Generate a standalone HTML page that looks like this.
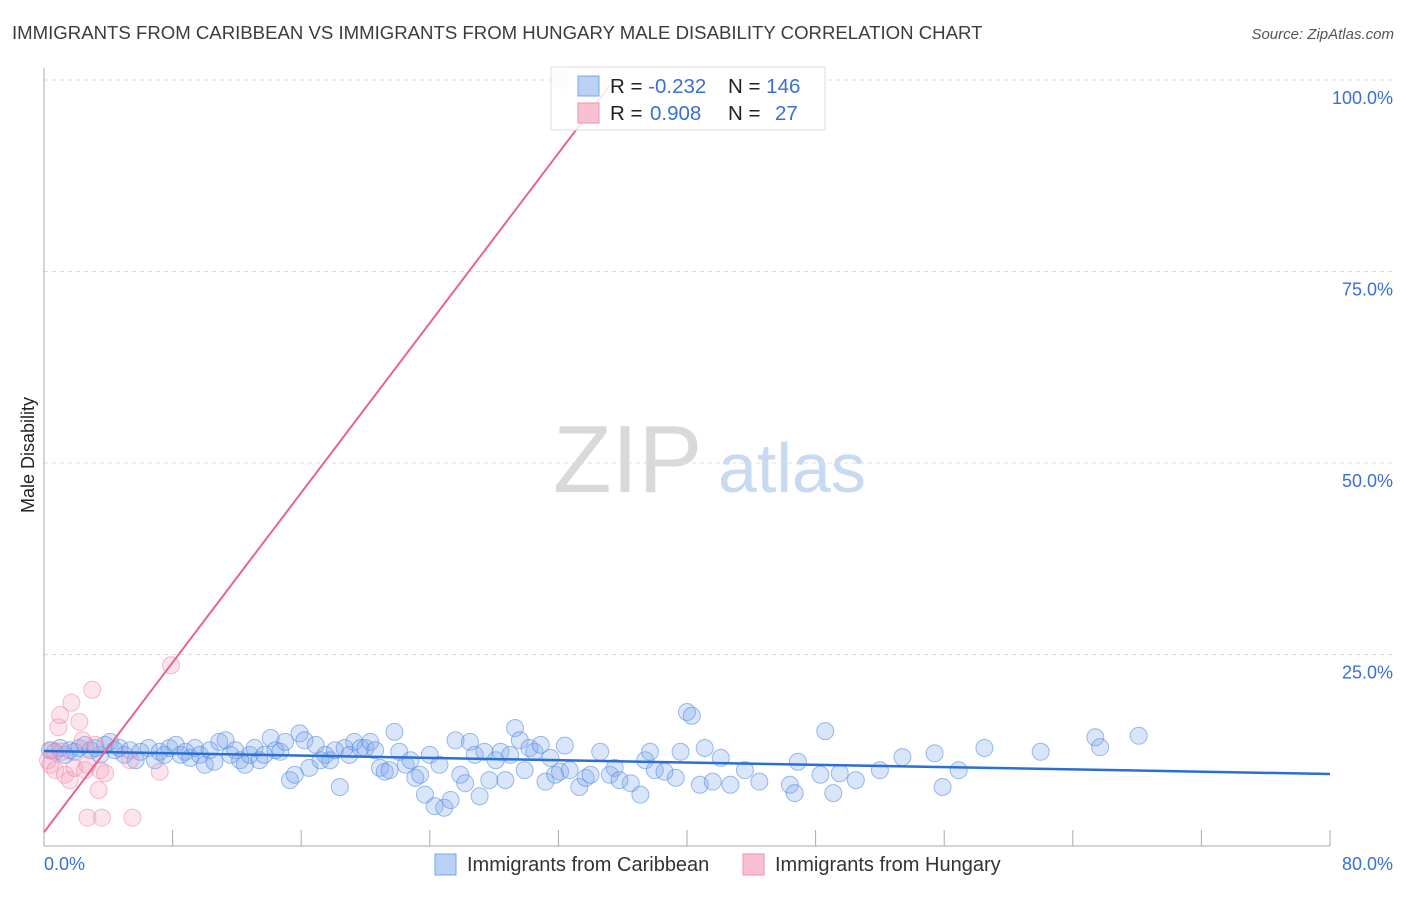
<!DOCTYPE html>
<html><head><meta charset="utf-8"><style>
body{margin:0;background:#fff;font-family:"Liberation Sans",sans-serif;}
svg text{font-family:"Liberation Sans",sans-serif;}
</style></head><body>
<svg id="chart" width="1406" height="892" viewBox="0 0 1406 892">
<text x="12" y="39" font-size="18.6" fill="#3c3c3c">IMMIGRANTS FROM CARIBBEAN VS IMMIGRANTS FROM HUNGARY MALE DISABILITY CORRELATION CHART</text>
<text x="1394" y="39" font-size="15" fill="#555" font-style="italic" text-anchor="end">Source: ZipAtlas.com</text>
<text transform="translate(34,455) rotate(-90)" font-size="18" fill="#222" text-anchor="middle">Male Disability</text>
<g>
<text x="553" y="492" font-size="96" fill="#d9d9d9" font-family="Liberation Serif">ZIP</text>
<text x="718" y="492" font-size="70" fill="#c8d9f2">atlas</text>
</g>
<g id="grid"></g>
<g id="axes"></g>
<g id="pts"></g>
<g id="trends"></g>
<g>
<rect x="551" y="67" width="274" height="63" fill="#fff" fill-opacity="0.85" stroke="#ddd"/>
<rect x="578" y="76" width="21" height="20" fill="#b9d1f4" stroke="#7aa6e6"/>
<rect x="578" y="103" width="21" height="20" fill="#f8c0d0" stroke="#ee93b0"/>
<text x="610" y="93" font-size="20.5" fill="#222">R = <tspan fill="#3a6fd8">-0.232</tspan><tspan x="728">N = </tspan><tspan fill="#3a6fd8">146</tspan></text>
<text x="610" y="120" font-size="20.5" fill="#222">R = <tspan x="650" fill="#3a6fd8">0.908</tspan><tspan x="728">N = </tspan><tspan x="775" fill="#3a6fd8">27</tspan></text>
</g>
<g>
<rect x="435" y="854" width="21" height="21" fill="#b9d1f4" stroke="#7aa6e6"/>
<text x="467" y="871" font-size="20" fill="#333">Immigrants from Caribbean</text>
<rect x="743" y="854" width="21" height="21" fill="#f8c0d0" stroke="#ee93b0"/>
<text x="775" y="871" font-size="20" fill="#333">Immigrants from Hungary</text>
</g>
</svg>
<script>
const yTicks=[25,50,75,100];
const yTickLabels=["25.0%","50.0%","75.0%","100.0%"];
const xTickLabels=["0.0%","80.0%"];
const blueX=[0.37,0.68,1.0,1.3,1.6,1.9,2.2,2.55,2.9,3.2,3.5,3.8,4.1,4.4,4.7,5.0,5.35,5.7,6.0,6.5,6.9,7.2,7.5,7.8,8.2,8.5,8.8,9.1,9.4,9.7,10.0,10.3,10.6,10.9,11.3,11.6,11.9,12.2,12.5,12.8,13.1,13.4,13.7,14.1,14.4,14.7,15.0,15.3,15.6,15.9,16.2,16.5,16.9,17.2,17.5,17.8,18.1,18.4,18.7,19.0,19.3,19.7,20.0,20.3,20.6,20.9,21.2,21.5,21.8,22.1,22.5,22.8,23.1,23.4,23.7,24.0,24.3,24.6,24.9,25.3,25.6,25.9,26.2,26.5,26.8,27.1,27.4,27.7,28.1,28.4,28.7,29.0,29.3,29.6,29.9,30.2,30.5,30.9,31.2,31.5,31.8,32.1,32.4,32.7,33.3,33.7,34.0,34.6,35.2,35.5,35.8,36.5,37.1,37.4,37.7,38.0,38.6,39.3,39.6,40.0,40.3,40.8,41.1,41.6,42.1,42.7,43.6,44.5,46.4,46.7,46.9,48.3,48.6,49.1,49.5,50.5,52.0,53.4,55.4,55.9,56.9,58.5,62.0,65.4,65.7,68.1];
const blueY=[12.5,12.3,12.8,11.9,12.5,12.3,12.8,13.2,12.5,12.8,11.9,13.2,13.6,12.5,12.8,11.9,12.5,11.2,12.3,12.8,11.2,12.3,11.9,12.8,13.2,11.9,12.3,11.5,12.8,11.9,10.6,12.5,11.0,13.6,13.8,11.9,12.5,11.2,10.6,11.9,12.8,11.2,11.9,14.1,12.5,12.3,13.6,8.6,9.3,14.7,13.8,10.2,13.2,11.2,11.9,11.2,12.5,7.7,12.8,11.9,13.6,12.8,12.8,13.6,12.5,10.2,9.7,9.9,14.9,12.3,10.6,11.2,8.9,9.3,6.7,11.9,5.2,10.6,5.0,6.0,13.8,9.3,8.2,13.6,11.9,6.5,12.3,8.6,11.2,12.3,8.6,11.9,15.4,13.8,9.9,12.8,12.3,13.2,8.4,11.5,9.3,9.7,13.1,9.9,7.7,8.9,9.3,12.3,9.3,10.2,8.6,8.2,6.7,11.2,12.3,9.9,9.7,8.9,12.3,17.5,17.0,8.0,12.8,8.4,11.5,8.0,9.9,8.4,8.0,6.9,11.0,9.3,15.0,6.9,9.5,8.6,9.9,11.6,12.1,7.7,9.9,12.8,12.3,14.2,12.9,14.4];
const pinkX=[0.25,0.4,0.5,0.7,0.9,1.0,1.1,1.3,1.6,1.7,1.9,2.2,2.4,2.55,2.7,3.0,3.2,3.4,3.5,3.8,2.7,3.6,5.5,5.35,7.2,7.9,32.1];
const pinkY=[11.2,10.6,12.5,9.9,15.5,17.1,12.3,9.3,8.6,18.7,10.2,16.2,13.8,9.9,10.6,20.4,13.2,7.3,9.9,9.5,3.7,3.7,3.7,11.2,9.7,23.6,100];
const blueTrend=[12.4,9.4];
const pinkTrend=[1.8,2.77];
const X0=44,X1=1330,Y0=846,PY=7.66;
function sx(v){return X0+(v/80)*(X1-X0);}
function sy(v){return Y0-v*PY;}
const NS="http://www.w3.org/2000/svg";
function mk(t,a,p){const e=document.createElementNS(NS,t);for(const k in a)e.setAttribute(k,a[k]);p.appendChild(e);return e;}
const grid=document.getElementById('grid'),axes=document.getElementById('axes'),pts=document.getElementById('pts'),tr=document.getElementById('trends');
yTicks.forEach((v,i)=>{
 const l=mk('line',{x1:X0,x2:1394,y1:sy(v),y2:sy(v),stroke:'#ddd','stroke-dasharray':'4,4'},grid);
 
 
 const t=mk('text',{x:1393,y:sy(v)+24,'font-size':18,fill:'#3a6fd8','text-anchor':'end'},grid);
 t.textContent=yTickLabels[i];
 
 
});
const ya=mk('line',{x1:X0,x2:X0,y1:68,y2:Y0,stroke:'#aaa'},axes);


const xa=mk('line',{x1:X0,x2:X1,y1:Y0,y2:Y0,stroke:'#aaa'},axes);


for(let v=8;v<=80;v+=8){
 const tk=mk('line',{x1:sx(v),x2:sx(v),y1:Y0-16,y2:Y0,stroke:'#aaa'},axes);
 
 
}
[[0,'start',44],[80,'end',1393]].forEach((d,i)=>{
 const t=mk('text',{x:d[2],y:870,'font-size':18,fill:'#3a6fd8','text-anchor':d[1]},axes);
 t.textContent=xTickLabels[i];
 
 
});
blueX.forEach((x,i)=>{
 const c=mk('circle',{cx:sx(x),cy:sy(blueY[i]),r:8.5,fill:'rgba(130,170,235,0.3)',stroke:'rgba(80,135,220,0.55)','stroke-width':1},pts);
 
 
});
pinkX.forEach((x,i)=>{
 const c=mk('circle',{cx:sx(x),cy:sy(pinkY[i]),r:8.5,fill:'rgba(245,165,195,0.3)',stroke:'rgba(235,125,165,0.5)','stroke-width':1},pts);
 
 
});
const bl=mk('line',{x1:sx(0),y1:sy(blueTrend[0]),x2:sx(80),y2:sy(blueTrend[1]),stroke:'#2a6fd6','stroke-width':2.5},tr);


const xe=(99.3-pinkTrend[0])/pinkTrend[1];
const pl=mk('line',{x1:sx(0),y1:sy(pinkTrend[0]),x2:sx(xe),y2:sy(pinkTrend[0]+pinkTrend[1]*xe),stroke:'#e8648f','stroke-width':2},tr);


</script>
</body></html>
